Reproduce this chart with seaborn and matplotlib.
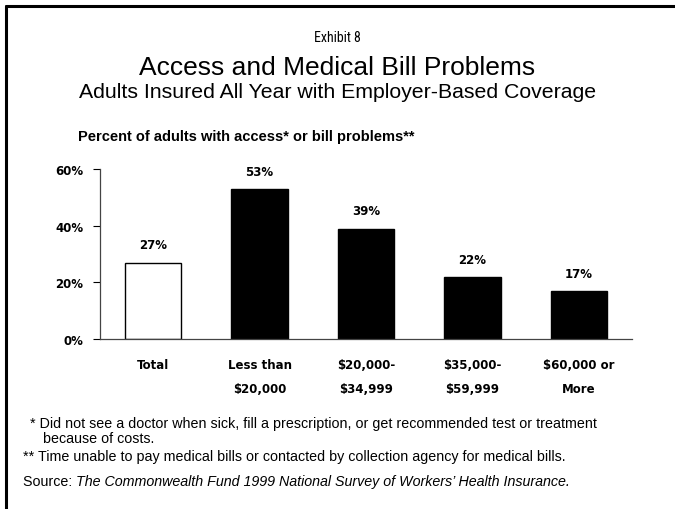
import matplotlib
matplotlib.use("Agg")
import matplotlib.pyplot as plt
import seaborn as sns
import pandas as pd
from matplotlib.lines import Line2D

categories = ["Total", "Less than\n$20,000", "$20,000-\n$34,999", "$35,000-\n$59,999", "$60,000 or\nMore"]
values = [27, 53, 39, 22, 17]
bar_colors = ["white", "black", "black", "black", "black"]
yticks = [0, 20, 40, 60]
ytick_labels = ["0%", "20%", "40%", "60%"]

sns.set_style("white")
plt.rcParams['font.family'] = ['Liberation Sans', 'DejaVu Sans']
plt.rcParams['text.color'] = 'black'
plt.rcParams['xtick.color'] = 'black'
plt.rcParams['ytick.color'] = 'black'
plt.rcParams['xtick.labelcolor'] = 'black'
plt.rcParams['ytick.labelcolor'] = 'black'

narrow = ['Liberation Sans Narrow', 'Roboto Condensed', 'Liberation Sans', 'DejaVu Sans']
wide = ['DejaVu Sans']

fig = plt.figure(figsize=(6.75, 5.1), dpi=100)
ax = fig.add_axes([100/675, 170/510, 532/675, 170/510])

df = pd.DataFrame({"cat": categories, "val": values})
sns.barplot(data=df, x="cat", y="val", hue="cat", palette=bar_colors, legend=False,
            width=0.53, edgecolor="black", linewidth=1.0, ax=ax, saturation=1)

ax.set_xlim(-0.5, 4.5)
ax.set_ylim(0, 60)
ax.set_yticks(yticks)
ax.set_yticklabels(ytick_labels, fontsize=8.5, fontweight="bold", family=wide, color="black")
ax.set_xticks([i - 0.5 for i in range(6)], minor=False)
ax.set_xticklabels([])
ax.set_xticks(range(5), minor=True)
ax.set_xticklabels(categories, minor=True, fontsize=8.5, fontweight="bold", linespacing=2.1,
                   family=wide, color="black")
ax.tick_params(axis="x", which="minor", length=0, pad=14)
ax.tick_params(axis="x", which="major", direction="in", length=5, width=0.8, color="black")
ax.tick_params(axis="y", direction="out", length=5, width=0.8, color="black", pad=7)
ax.set_xlabel("")
ax.set_ylabel("")
for s in ["top", "right"]:
    ax.spines[s].set_visible(False)
for s in ["left", "bottom"]:
    ax.spines[s].set_color("#444444")
    ax.spines[s].set_linewidth(0.9)
ax.yaxis.set_ticks_position("left")

for i, v in enumerate(values):
    ax.annotate(f"{v}%", (i, v), xytext=(0, 8), textcoords="offset points",
                ha="center", va="bottom", fontsize=8.5, fontweight="bold", family=wide, color="black")

# Titles
fig.text(0.5, 1 - 38/510, "Exhibit 8", ha="center", va="center", fontsize=10, family=narrow)
fig.text(0.5, 1 - 68/510, "Access and Medical Bill Problems", ha="center", va="center", fontsize=19)
fig.text(0.5, 1 - 93/510, "Adults Insured All Year with Employer-Based Coverage", ha="center", va="center", fontsize=15.3)
fig.text(78/675, 1 - 137/510, "Percent of adults with access* or bill problems**", ha="left", va="center",
         fontsize=10.5, fontweight="bold")

# Footnotes
fs = 10.3
fig.text(30/675, 1 - 424/510, "* Did not see a doctor when sick, fill a prescription, or get recommended test or treatment",
         ha="left", va="center", fontsize=fs)
fig.text(43/675, 1 - 439/510, "because of costs.", ha="left", va="center", fontsize=fs)
fig.text(23/675, 1 - 457/510, "** Time unable to pay medical bills or contacted by collection agency for medical bills.",
         ha="left", va="center", fontsize=fs)
t1 = fig.text(23/675, 1 - 482/510, "Source: ", ha="left", va="center", fontsize=fs)
fig.canvas.draw()
bb = t1.get_window_extent()
fig.text(bb.x1 / 675, 1 - 482/510, "The Commonwealth Fund 1999 National Survey of Workers\u2019 Health Insurance.",
         ha="left", va="center", fontsize=fs, style="italic")

# Border lines (top and left)
fig.add_artist(Line2D([6/675, 1], [1 - 7/510, 1 - 7/510], color="black", linewidth=2.2, transform=fig.transFigure))
fig.add_artist(Line2D([6/675, 6/675], [0, 1 - 7/510], color="black", linewidth=2.2, transform=fig.transFigure))

fig.savefig("out.png", dpi=100)
